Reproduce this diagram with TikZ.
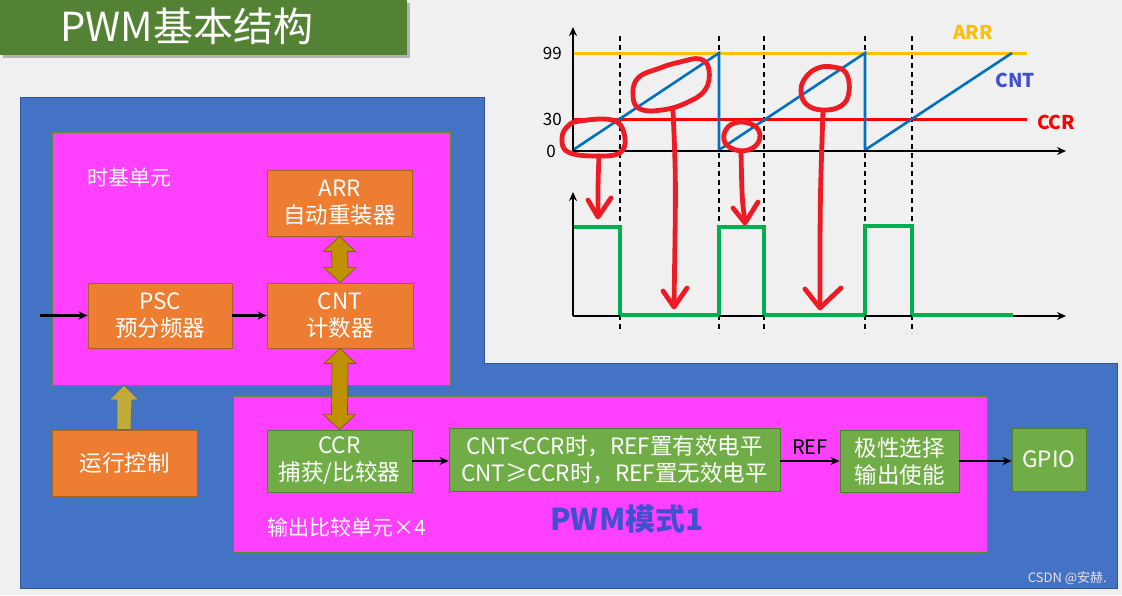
\documentclass[tikz,border=0pt]{standalone}
\usepackage{fontspec}
\setmainfont{Noto Sans CJK SC}
\usetikzlibrary{arrows.meta,calc}
\definecolor{bgc}{HTML}{F0F0F0}
\definecolor{titleg}{HTML}{548235}
\definecolor{blueb}{HTML}{4472C4}
\definecolor{bluebd}{HTML}{2F5597}
\definecolor{mag}{HTML}{FF40FF}
\definecolor{magbd}{HTML}{5B8C3A}
\definecolor{orng}{HTML}{ED7D31}
\definecolor{orngbd}{HTML}{A5651E}
\definecolor{grn}{HTML}{70AD47}
\definecolor{grnbd}{HTML}{507E32}
\definecolor{gold}{HTML}{BF9000}
\definecolor{goldbd}{HTML}{7F6000}
\definecolor{olv}{HTML}{C0AA38}
\definecolor{olvbd}{HTML}{41719C}
\definecolor{arrc}{HTML}{FFC000}
\definecolor{cntc}{HTML}{0070C0}
\definecolor{cntlab}{HTML}{3F51D0}
\definecolor{sig}{HTML}{00B050}
\definecolor{pen}{HTML}{ED1C24}
\begin{document}
\begin{tikzpicture}[x=1pt,y=-1pt,
  txt/.style={font=\fontsize{22.5}{27}\selectfont},
  obox/.style={draw=orngbd, fill=orng, line width=0.8pt, text=white, align=center, inner sep=0pt, txt},
  gbox/.style={draw=grnbd, fill=grn, line width=0.8pt, text=white, align=center, inner sep=0pt, txt},
  flow/.style={line width=2.4pt, -{Stealth[length=9pt,width=8pt]}},
  goldarr/.style={fill=gold, draw=goldbd, line width=0.7pt},
  upar/.style={fill=olv, draw=olvbd, line width=0.9pt},
  axis/.style={line width=2.4pt, -{Stealth[length=9pt,width=8pt]}},
  guide/.style={line width=1.8pt, dash pattern=on 5pt off 4pt},
  redpen/.style={draw=pen, line width=4.8pt, line cap=round, line join=round},
  axlab/.style={font=\fontsize{17}{17}\selectfont, inner sep=0pt}
]
\useasboundingbox (0,0) rectangle (1122,595);
\fill[bgc] (0,0) rectangle (1122,595);

% title
\fill[black!30] (3,3) rectangle (410,58);
\fill[titleg] (0,0) rectangle (407,55);
\node[text=white, font=\fontsize{40}{40}\selectfont] (title) at (187,26) {PWM基本结构};

% blue region
\draw[fill=blueb, draw=bluebd, line width=0.8pt] (20,97) -- (484,97) -- (484,363) -- (1117,363) -- (1117,588) -- (20,588) -- cycle;

% magenta boxes
\draw[fill=mag, draw=magbd, line width=0.8pt] (52,132) rectangle (450,385);
\draw[fill=mag, draw=magbd, line width=0.8pt] (233,396) rectangle (987,552);
\node[anchor=west, text=white, font=\fontsize{21}{21}\selectfont, inner sep=0pt] (tb) at (87,178) {时基单元};
\node[anchor=west, text=white, font=\fontsize{21}{21}\selectfont, inner sep=0pt] (oc) at (267,527) {输出比较单元×4};
\node[text=cntlab, font=\fontsize{30}{30}\selectfont\bfseries, inner sep=0pt] (mode) at (627,519) {PWM模式1};

% boxes
\node[obox, minimum width=145pt, minimum height=66pt] (arr) at (339.5,203) {ARR\\自动重装器};
\node[obox, minimum width=144pt, minimum height=65pt] (psc) at (160,315.5) {PSC\\预分频器};
\node[obox, minimum width=146pt, minimum height=65pt] (cnt) at (340,315.5) {CNT\\计数器};
\node[obox, minimum width=145pt, minimum height=66pt] (run) at (124.5,463) {运行控制};
\node[gbox, minimum width=145pt, minimum height=62pt] (ccr) at (339.5,461) {CCR\\捕获/比较器};
\node[gbox, minimum width=331pt, minimum height=63pt] (cmp) at (614.5,459.5) {CNT<CCR时，REF置有效电平\\CNT≥CCR时，REF置无效电平};
\node[gbox, minimum width=119pt, minimum height=62pt] (pol) at (899.5,461) {极性选择\\输出使能};
\node[gbox, minimum width=74pt, minimum height=63pt] (gpio) at (1049,459.5) {GPIO};

% flow arrows
\coordinate (in) at (40,315.5);
\draw[flow] (in) -- (psc.west);
\draw[flow] (psc.east) -- (cnt.west);
\draw[flow] (ccr.east) -- (ccr.east -| cmp.west);
\draw[flow] (cmp.east |- pol.west) -- node[above=5pt, font=\fontsize{20}{20}\selectfont, inner sep=0pt] (ref) {REF} (pol.west);
\draw[flow] (pol.east) -- (pol.east -| gpio.west);

% gold double arrows
\draw[goldarr] (arr.south) -- ++(16,15) -- ++(-8,0) -- ($(cnt.north)+(8,-15)$) -- ++(8,0) -- (cnt.north) -- ++(-16,-15) -- ++(8,0) -- ($(arr.south)+(-8,15)$) -- ++(-8,0) -- cycle;
\draw[goldarr] (cnt.south) -- ++(16,15) -- ++(-8,0) -- ($(ccr.north)+(8,-15)$) -- ++(8,0) -- (ccr.north) -- ++(-16,-15) -- ++(8,0) -- ($(cnt.south)+(-8,15)$) -- ++(-8,0) -- cycle;
% run control up arrow
\coordinate (uptip) at (124,385);
\draw[upar] (uptip) -- ++(15,15) -- ++(-7,0) -- (run.north -| 131,0) -- (run.north -| 117,0) -- (117,400) -- ++(-8,0) -- cycle;

% ---------- upper chart ----------
\draw[guide] (620,36) -- (620,333);
\draw[guide] (719,36) -- (719,333);
\draw[guide] (764,36) -- (764,333);
\draw[guide] (865,36) -- (865,333);
\draw[guide] (912,36) -- (912,333);
\draw[arrc, line width=3pt] (573,53) -- (1027,53);
\draw[red, line width=3pt] (573,119) -- (1027,119);
\draw[cntc, line width=2.6pt, line join=miter] (573,150) -- (719,53) -- (719,150) -- (865,53) -- (865,150) -- (1012,53);
\draw[axis] (573,151) -- (1066,151);
\draw[axis] (573,151) -- (573,27);
\node[axlab, anchor=east] (l99) at (562,53) {99};
\node[axlab, anchor=east] (l30) at (562,119) {30};
\node[axlab, anchor=east] (l0) at (556,151) {0};
\node[text=arrc, font=\fontsize{19}{19}\selectfont\bfseries, inner sep=0pt] (larr) at (973,32) {ARR};
\node[text=cntlab, font=\fontsize{19}{19}\selectfont\bfseries, inner sep=0pt] (lcnt) at (1015,80) {CNT};
\node[text=red, font=\fontsize{19}{19}\selectfont\bfseries, inner sep=0pt] (lccr) at (1056,122) {CCR};

% ---------- lower chart ----------
\draw[sig, line width=3.2pt, line join=miter] (573,227) -- (620,227) -- (620,315) -- (719,315) -- (719,227) -- (764,227) -- (764,315) -- (865,315) -- (865,226) -- (912,226) -- (912,315) -- (1013,315);
\draw[axis] (573,316) -- (1066,316);
\draw[axis] (573,316) -- (573,192);
\draw[sig, line width=3.2pt] (620,315) -- (719,315) (764,315) -- (865,315) (912,315) -- (1013,315);

% ---------- red annotations ----------
\draw[redpen] plot[smooth cycle, tension=0.7] coordinates {(580,121) (612,120) (624,133) (621,152) (596,156) (568,152) (562,138) (568,126)};
\draw[redpen] (599,156) .. controls (598,180) .. (598,216);
\draw[redpen] (588,200) -- (598,217) -- (611,198);

\draw[redpen] plot[smooth cycle, tension=0.7] coordinates {(633,96) (638,78) (660,68) (680,62) (700,59) (709,70) (705,90) (686,103) (662,110) (640,109)};
\draw[redpen] (673,110) .. controls (676,180) .. (674,305);
\draw[redpen] (663,291) -- (674,307) -- (687,288);

\draw[redpen] plot[smooth cycle, tension=0.7] coordinates {(728,127) (742,122) (757,128) (759,141) (748,150) (733,149) (724,140)};
\draw[redpen] (741,151) .. controls (742,200) .. (745,221);
\draw[redpen] (733,208) -- (745,223) -- (758,202);

\draw[redpen] plot[smooth cycle, tension=0.7] coordinates {(806,77) (818,68) (833,67) (846,73) (849,92) (841,106) (822,110) (806,104) (801,90)};
\draw[redpen] (823,111) .. controls (820,200) .. (820,305);
\draw[redpen] (805,289) -- (820,308) -- (841,288);

% watermark
\node[anchor=east, text=white!80!gray, font=\fontsize{13}{13}\selectfont, inner sep=0pt] (wm) at (1107,578) {CSDN @安赫.};
\end{tikzpicture}
\end{document}
